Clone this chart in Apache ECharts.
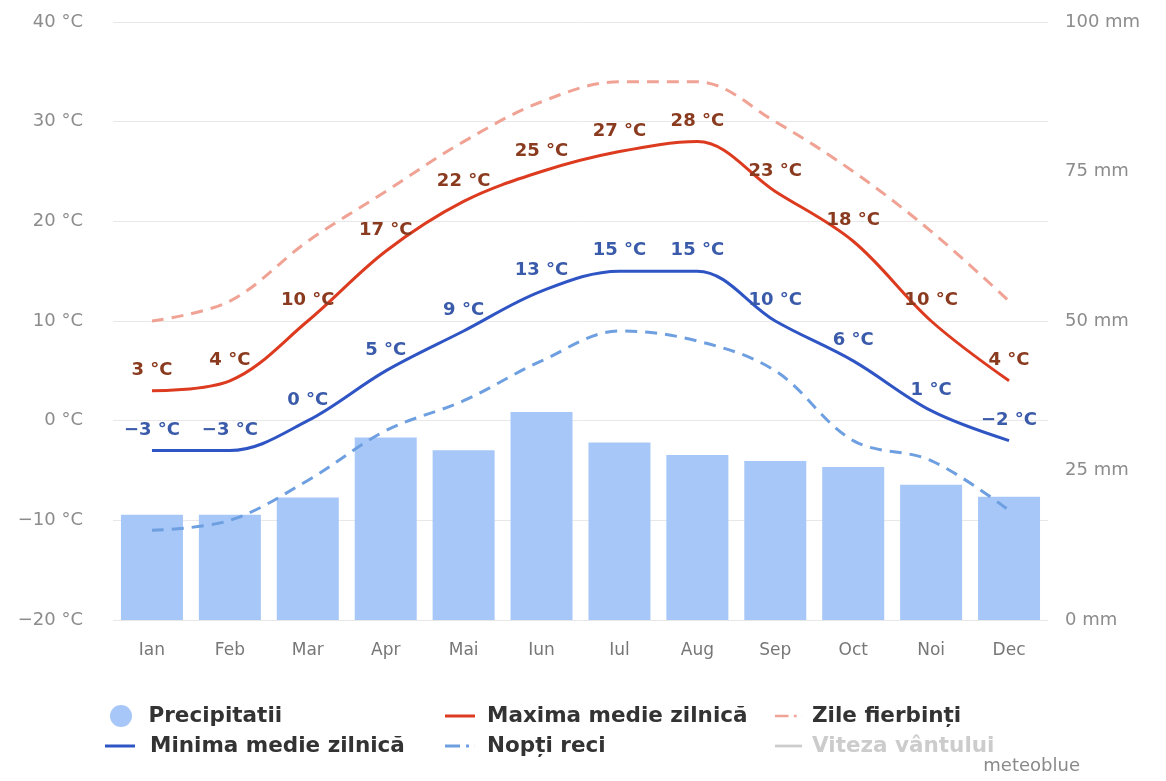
<!DOCTYPE html>
<html><head><meta charset="utf-8">
<script src="https://cdn.jsdelivr.net/npm/echarts@6/dist/echarts.min.js"></script>
<style>html,body{margin:0;padding:0;background:#fff}#c{width:1166px;height:781px}</style>
</head><body><div id="c"></div>
<script>
const months = ['Ian','Feb','Mar','Apr','Mai','Iun','Iul','Aug','Sep','Oct','Noi','Dec'];
const precip = [17.6,17.6,20.5,30.5,28.4,34.8,29.7,27.6,26.6,25.6,22.6,20.6];
const tMax = [3,4,10,17,22,25,27,28,23,18,10,4];
const tMin = [-3,-3,0,5,9,13,15,15,10,6,1,-2];
const hotDays = [10,12,18,23,28,32,34,34,30,25,19,12];
const coldNights = [-11,-10,-6,-1,2,6,9,8,5,-2,-4,-9];
const windSpeed = [];
const tempTicks = {min:-20,max:40,interval:10};
const mmTicks = {min:0,max:100,interval:25};

const FF = 'DejaVu Sans';
const C = {bar:'#a6c7f7', max:'#dc3b20', hot:'#f0a394', min:'#2f55c4', cold:'#6e9fe0', wind:'#999'};
const chart = echarts.init(document.getElementById('c'));
const SOLID = 'path://M0,0 L30,0 L30,3 L0,3 Z';
const DASH = 'path://M0,0 L15,0 L15,3 L0,3 Z M21,0 L24,0 L24,3 L21,3 Z M30,0 L30,3 L29.9,3 L29.9,0 Z';
function lg(name, icon, color, left, top, w, h, pad){
  return {data:[{name:name,icon:icon,itemStyle:{color:color,opacity:1}}],left:left,top:top,padding:0,
    itemWidth:w,itemHeight:h,itemGap:0,
    textStyle:{fontFamily:FF,fontSize:21.5,fontWeight:'bold',color:'#333',padding:[0,0,0,pad]},
    inactiveColor:'#ccc',selected:{'Viteza vântului':false}};
}
function negFmt(p){ return (p.value<0 ? '\u2212'+(-p.value) : p.value) + ' °C'; }
chart.setOption({
  animation:false,
  textStyle:{fontFamily:FF},
  grid:{left:113,right:118,top:22,bottom:161},
  legend:[
    lg('Precipitatii','circle',C.bar,110,705,25,22,10),
    lg('Maxima medie zilnică',SOLID,C.max,445,705,30,3,7),
    lg('Zile fierbinți',DASH,C.hot,775,705,27,3,5),
    lg('Minima medie zilnică',SOLID,C.min,105,735,30,3,10),
    lg('Nopți reci',DASH,C.cold,445,735,30,3,7),
    lg('Viteza vântului',SOLID,C.wind,775,735,27,3,5)
  ],
  graphic:[{type:'text',right:86,top:757,style:{text:'meteoblue',fill:'#8a8a8a',font:'18px '+FF}}],
  xAxis:{type:'category',data:months,axisLine:{show:false},axisTick:{show:false},
    axisLabel:{color:'#777',fontSize:17,margin:22,fontFamily:FF}},
  yAxis:[
    {type:'value',min:tempTicks.min,max:tempTicks.max,interval:tempTicks.interval,
      axisLabel:{formatter:function(v){return (v<0?'\u2212'+(-v):v)+' °C';},color:'#8c8c8c',fontSize:18,margin:30,fontFamily:FF},
      splitLine:{lineStyle:{color:'#e8e8e8'}},axisLine:{show:false},axisTick:{show:false}},
    {type:'value',min:mmTicks.min,max:mmTicks.max,interval:mmTicks.interval,position:'right',
      axisLabel:{formatter:'{value} mm',color:'#8c8c8c',fontSize:18,margin:17,fontFamily:FF},
      splitLine:{show:false},axisLine:{show:false},axisTick:{show:false}}
  ],
  series:[
    {name:'Precipitatii',type:'bar',yAxisIndex:1,data:precip,barWidth:62,
      itemStyle:{color:C.bar},z:1},
    {name:'Maxima medie zilnică',type:'line',data:tMax,smooth:0.35,symbol:'circle',symbolSize:1,showSymbol:true,
      lineStyle:{color:C.max,width:3},itemStyle:{color:C.max,opacity:0},z:4,
      label:{show:true,position:'top',distance:11,formatter:negFmt,color:'#8a3a1e',opacity:1,
        fontSize:18,fontWeight:'bold',fontFamily:FF}},
    {name:'Zile fierbinți',type:'line',data:hotDays,smooth:0.35,symbol:'none',
      lineStyle:{color:C.hot,width:3,type:[12,8]},itemStyle:{color:C.hot},z:3},
    {name:'Minima medie zilnică',type:'line',data:tMin,smooth:0.35,symbol:'circle',symbolSize:1,showSymbol:true,
      lineStyle:{color:C.min,width:3},itemStyle:{color:C.min,opacity:0},z:4,
      label:{show:true,position:'top',distance:11,formatter:negFmt,color:'#3a5aaa',opacity:1,
        fontSize:18,fontWeight:'bold',fontFamily:FF}},
    {name:'Nopți reci',type:'line',data:coldNights,smooth:0.35,symbol:'none',
      lineStyle:{color:C.cold,width:3,type:[12,8]},itemStyle:{color:C.cold},z:3},
    {name:'Viteza vântului',type:'line',data:windSpeed,symbol:'none',
      lineStyle:{color:C.wind,width:3},itemStyle:{color:C.wind}}
  ]
});
</script></body></html>
